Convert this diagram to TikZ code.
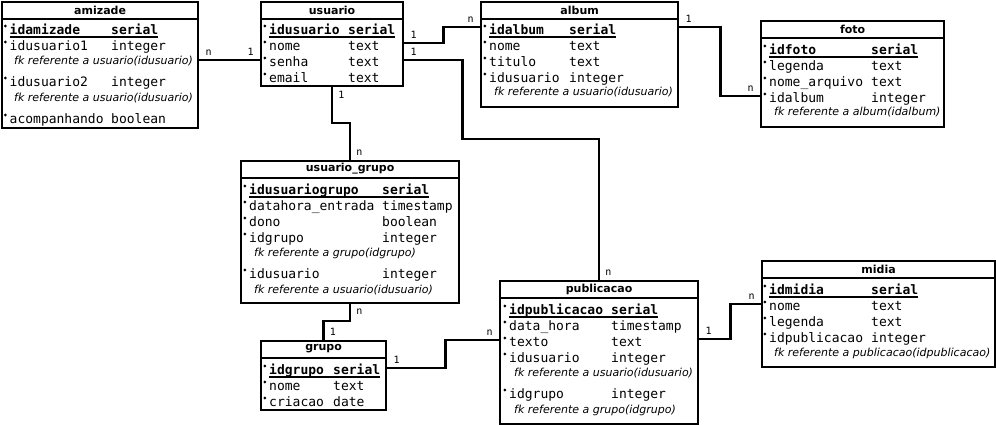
\documentclass[tikz,border=0pt]{standalone}
\usepackage{fontspec}
\setmainfont{DejaVu Sans}
\setsansfont{DejaVu Sans}
\setmonofont{DejaVu Sans Mono}

\begin{document}
\begin{tikzpicture}[x=1pt,y=-1pt,
  tabela/.style={draw, line width=2.2pt, anchor=north west, inner sep=0pt},
  divisa/.style={line width=2.2pt},
  titulo/.style={font=\sffamily\bfseries\fontsize{11}{13}\selectfont, inner sep=0pt},
  texto/.style={anchor=base west, inner sep=0pt, text height=9.5pt, text depth=2.5pt,
    font=\ttfamily\fontsize{13}{15}\selectfont},
  marca/.style={circle, fill, inner sep=1.1pt, outer sep=0pt, text height=0pt, text depth=0pt,
    xshift=-2.6pt, yshift=5pt},
  campo/.style={texto, label={[marca]left:{}}},
  tipo/.style={texto},
  chave/.style={campo, font=\ttfamily\bfseries\fontsize{13}{15}\selectfont},
  tipochave/.style={tipo, font=\ttfamily\bfseries\fontsize{13}{15}\selectfont},
  nota/.style={anchor=base west, inner sep=0pt, font=\sffamily\itshape\fontsize{11}{13}\selectfont},
  sublinha/.style={line width=1.3pt},
  card/.style={font=\ttfamily\fontsize{10}{12}\selectfont, inner xsep=5pt, inner ysep=3pt},
  liga/.style={line width=2.6pt}]
\useasboundingbox (0,0) rectangle (996,425);

% amizade
\node[tabela, minimum width=196, minimum height=126] (amizade) at (1,1) {};
\node[titulo] (amizade-tit) at ([yshift=-9pt]amizade.north) {amizade};
\draw[divisa] ([yshift=-18pt]amizade.north west) -- ([yshift=-18pt]amizade.north east);
\node[chave] (am-id) at (9.5,34.5) {idamizade};
\node[tipochave] (am-id-t) at (111,34.5) {serial};
\draw[sublinha] ([yshift=-2.5pt]am-id.base west) -- ([yshift=-2.5pt]am-id-t.base east);
\node[campo] (am-u1) at (9.5,50.5) {idusuario1};
\node[tipo] (am-u1-t) at (111,50.5) {integer};
\node[nota] (am-u1-fk) at (14,65) {fk referente a usuario(idusuario)};
\node[campo] (am-u2) at (9.5,86.5) {idusuario2};
\node[tipo] (am-u2-t) at (111,86.5) {integer};
\node[nota] (am-u2-fk) at (14,102) {fk referente a usuario(idusuario)};
\node[campo] (am-ac) at (9.5,123.5) {acompanhando};
\node[tipo] (am-ac-t) at (111,123.5) {boolean};

% usuario
\node[tabela, minimum width=142, minimum height=84] (usuario) at (260,1) {};
\node[titulo] (usuario-tit) at ([yshift=-9pt]usuario.north) {usuario};
\draw[divisa] ([yshift=-18pt]usuario.north west) -- ([yshift=-18pt]usuario.north east);
\node[chave] (us-id) at (269,34.5) {idusuario};
\node[tipochave] (us-id-t) at (348,34.5) {serial};
\draw[sublinha] ([yshift=-2.5pt]us-id.base west) -- ([yshift=-2.5pt]us-id-t.base east);
\node[campo] (us-no) at (269,50.5) {nome};
\node[tipo] (us-no-t) at (348,50.5) {text};
\node[campo] (us-se) at (269,66.5) {senha};
\node[tipo] (us-se-t) at (348,66.5) {text};
\node[campo] (us-em) at (269,82.5) {email};
\node[tipo] (us-em-t) at (348,82.5) {text};

% album
\node[tabela, minimum width=197, minimum height=105] (album) at (480,1) {};
\node[titulo] (album-tit) at ([yshift=-9pt]album.north) {album};
\draw[divisa] ([yshift=-18pt]album.north west) -- ([yshift=-18pt]album.north east);
\node[chave] (al-id) at (489,34.5) {idalbum};
\node[tipochave] (al-id-t) at (569,34.5) {serial};
\draw[sublinha] ([yshift=-2.5pt]al-id.base west) -- ([yshift=-2.5pt]al-id-t.base east);
\node[campo] (al-no) at (489,50.5) {nome};
\node[tipo] (al-no-t) at (569,50.5) {text};
\node[campo] (al-ti) at (489,66.5) {titulo};
\node[tipo] (al-ti-t) at (569,66.5) {text};
\node[campo] (al-us) at (489,82.5) {idusuario};
\node[tipo] (al-us-t) at (569,82.5) {integer};
\node[nota] (al-us-fk) at (494,96) {fk referente a usuario(idusuario)};

% foto
\node[tabela, minimum width=183, minimum height=106] (foto) at (760,20) {};
\node[titulo] (foto-tit) at ([yshift=-9pt]foto.north) {foto};
\draw[divisa] ([yshift=-18pt]foto.north west) -- ([yshift=-18pt]foto.north east);
\node[chave] (fo-id) at (769,54.5) {idfoto};
\node[tipochave] (fo-id-t) at (871,54.5) {serial};
\draw[sublinha] ([yshift=-2.5pt]fo-id.base west) -- ([yshift=-2.5pt]fo-id-t.base east);
\node[campo] (fo-le) at (769,70.5) {legenda};
\node[tipo] (fo-le-t) at (871,70.5) {text};
\node[campo] (fo-na) at (769,86.5) {nome\_arquivo};
\node[tipo] (fo-na-t) at (871,86.5) {text};
\node[campo] (fo-al) at (769,102.5) {idalbum};
\node[tipo] (fo-al-t) at (871,102.5) {integer};
\node[nota] (fo-al-fk) at (774,116) {fk referente a album(idalbum)};

% usuario_grupo
\node[tabela, minimum width=218, minimum height=142] (ugrupo) at (240,160) {};
\node[titulo] (ugrupo-tit) at ([yshift=-9pt]ugrupo.north) {usuario\_grupo};
\draw[divisa] ([yshift=-18pt]ugrupo.north west) -- ([yshift=-18pt]ugrupo.north east);
\node[chave] (ug-id) at (249,194.5) {idusuariogrupo};
\node[tipochave] (ug-id-t) at (382,194.5) {serial};
\draw[sublinha] ([yshift=-2.5pt]ug-id.base west) -- ([yshift=-2.5pt]ug-id-t.base east);
\node[campo] (ug-dh) at (249,210.5) {datahora\_entrada};
\node[tipo] (ug-dh-t) at (382,210.5) {timestamp};
\node[campo] (ug-do) at (249,226.5) {dono};
\node[tipo] (ug-do-t) at (382,226.5) {boolean};
\node[campo] (ug-gr) at (249,242.5) {idgrupo};
\node[tipo] (ug-gr-t) at (382,242.5) {integer};
\node[nota] (ug-gr-fk) at (254,256) {fk referente a grupo(idgrupo)};
\node[campo] (ug-us) at (249,278.5) {idusuario};
\node[tipo] (ug-us-t) at (382,278.5) {integer};
\node[nota] (ug-us-fk) at (254,293) {fk referente a usuario(idusuario)};

% grupo
\node[tabela, minimum width=125, minimum height=69] (grupo) at (260,340) {};
\node[titulo] (grupo-tit) at ([yshift=-9pt]grupo.north) {grupo};
\draw[divisa] ([yshift=-18pt]grupo.north west) -- ([yshift=-18pt]grupo.north east);
\node[chave] (gr-id) at (269,374.5) {idgrupo};
\node[tipochave] (gr-id-t) at (333,374.5) {serial};
\draw[sublinha] ([yshift=-2.5pt]gr-id.base west) -- ([yshift=-2.5pt]gr-id-t.base east);
\node[campo] (gr-no) at (269,390.5) {nome};
\node[tipo] (gr-no-t) at (333,390.5) {text};
\node[campo] (gr-cr) at (269,406.5) {criacao};
\node[tipo] (gr-cr-t) at (333,406.5) {date};

% publicacao
\node[tabela, minimum width=198, minimum height=143] (publicacao) at (499,280) {};
\node[titulo] (publicacao-tit) at ([yshift=-9pt]publicacao.north) {publicacao};
\draw[divisa] ([yshift=-18pt]publicacao.north west) -- ([yshift=-18pt]publicacao.north east);
\node[chave] (pu-id) at (509,314.5) {idpublicacao};
\node[tipochave] (pu-id-t) at (611,314.5) {serial};
\draw[sublinha] ([yshift=-2.5pt]pu-id.base west) -- ([yshift=-2.5pt]pu-id-t.base east);
\node[campo] (pu-dh) at (509,330.5) {data\_hora};
\node[tipo] (pu-dh-t) at (611,330.5) {timestamp};
\node[campo] (pu-te) at (509,346.5) {texto};
\node[tipo] (pu-te-t) at (611,346.5) {text};
\node[campo] (pu-us) at (509,362.5) {idusuario};
\node[tipo] (pu-us-t) at (611,362.5) {integer};
\node[nota] (pu-us-fk) at (514,376) {fk referente a usuario(idusuario)};
\node[campo] (pu-gr) at (509,398.5) {idgrupo};
\node[tipo] (pu-gr-t) at (611,398.5) {integer};
\node[nota] (pu-gr-fk) at (514,413) {fk referente a grupo(idgrupo)};

% midia
\node[tabela, minimum width=233, minimum height=106] (midia) at (761,260) {};
\node[titulo] (midia-tit) at ([yshift=-9pt]midia.north) {midia};
\draw[divisa] ([yshift=-18pt]midia.north west) -- ([yshift=-18pt]midia.north east);
\node[chave] (mi-id) at (769,294.5) {idmidia};
\node[tipochave] (mi-id-t) at (871,294.5) {serial};
\draw[sublinha] ([yshift=-2.5pt]mi-id.base west) -- ([yshift=-2.5pt]mi-id-t.base east);
\node[campo] (mi-no) at (769,310.5) {nome};
\node[tipo] (mi-no-t) at (871,310.5) {text};
\node[campo] (mi-le) at (769,326.5) {legenda};
\node[tipo] (mi-le-t) at (871,326.5) {text};
\node[campo] (mi-pu) at (769,342.5) {idpublicacao};
\node[tipo] (mi-pu-t) at (871,342.5) {integer};
\node[nota] (mi-pu-fk) at (774,356) {fk referente a publicacao(idpublicacao)};

% ligacoes
\draw[liga] (amizade.east |- 0,60) -- node[card, at start, above right] {n}
  node[card, at end, above left] {1} (usuario.west |- 0,60);
\draw[liga] (usuario.east |- 0,43) -- node[card, at start, above right] {1} ++(39,0)
  |- node[card, at end, above left] {n} (album.west |- 0,27);
\draw[liga] (usuario.east |- 0,60) -- node[card, at start, above right] {1} ++(58,0)
  |- (publicacao.north |- 0,139) -- node[card, at end, above right] {n} (publicacao.north);
\draw[liga] (usuario.south) |- node[card, at start, below right] {1} (ugrupo.north |- 0,123)
  -- node[card, at end, above right] {n} (ugrupo.north);
\draw[liga] (ugrupo.south) |- node[card, at start, below right] {n} (grupo.north |- 0,321)
  -- node[card, at end, above right] {1} (grupo.north);
\draw[liga] (grupo.east |- 0,368) -- node[card, at start, above right] {1} ++(58,0)
  |- node[card, at end, above left] {n} (publicacao.west |- 0,340);
\draw[liga] (album.east |- 0,27) -- node[card, at start, above right] {1} ++(41,0)
  |- node[card, at end, above left] {n} (foto.west |- 0,96);
\draw[liga] (publicacao.east |- 0,339) -- node[card, at start, above right] {1} ++(31,0)
  |- node[card, at end, above left] {n} (midia.west |- 0,304);
\end{tikzpicture}
\end{document}
